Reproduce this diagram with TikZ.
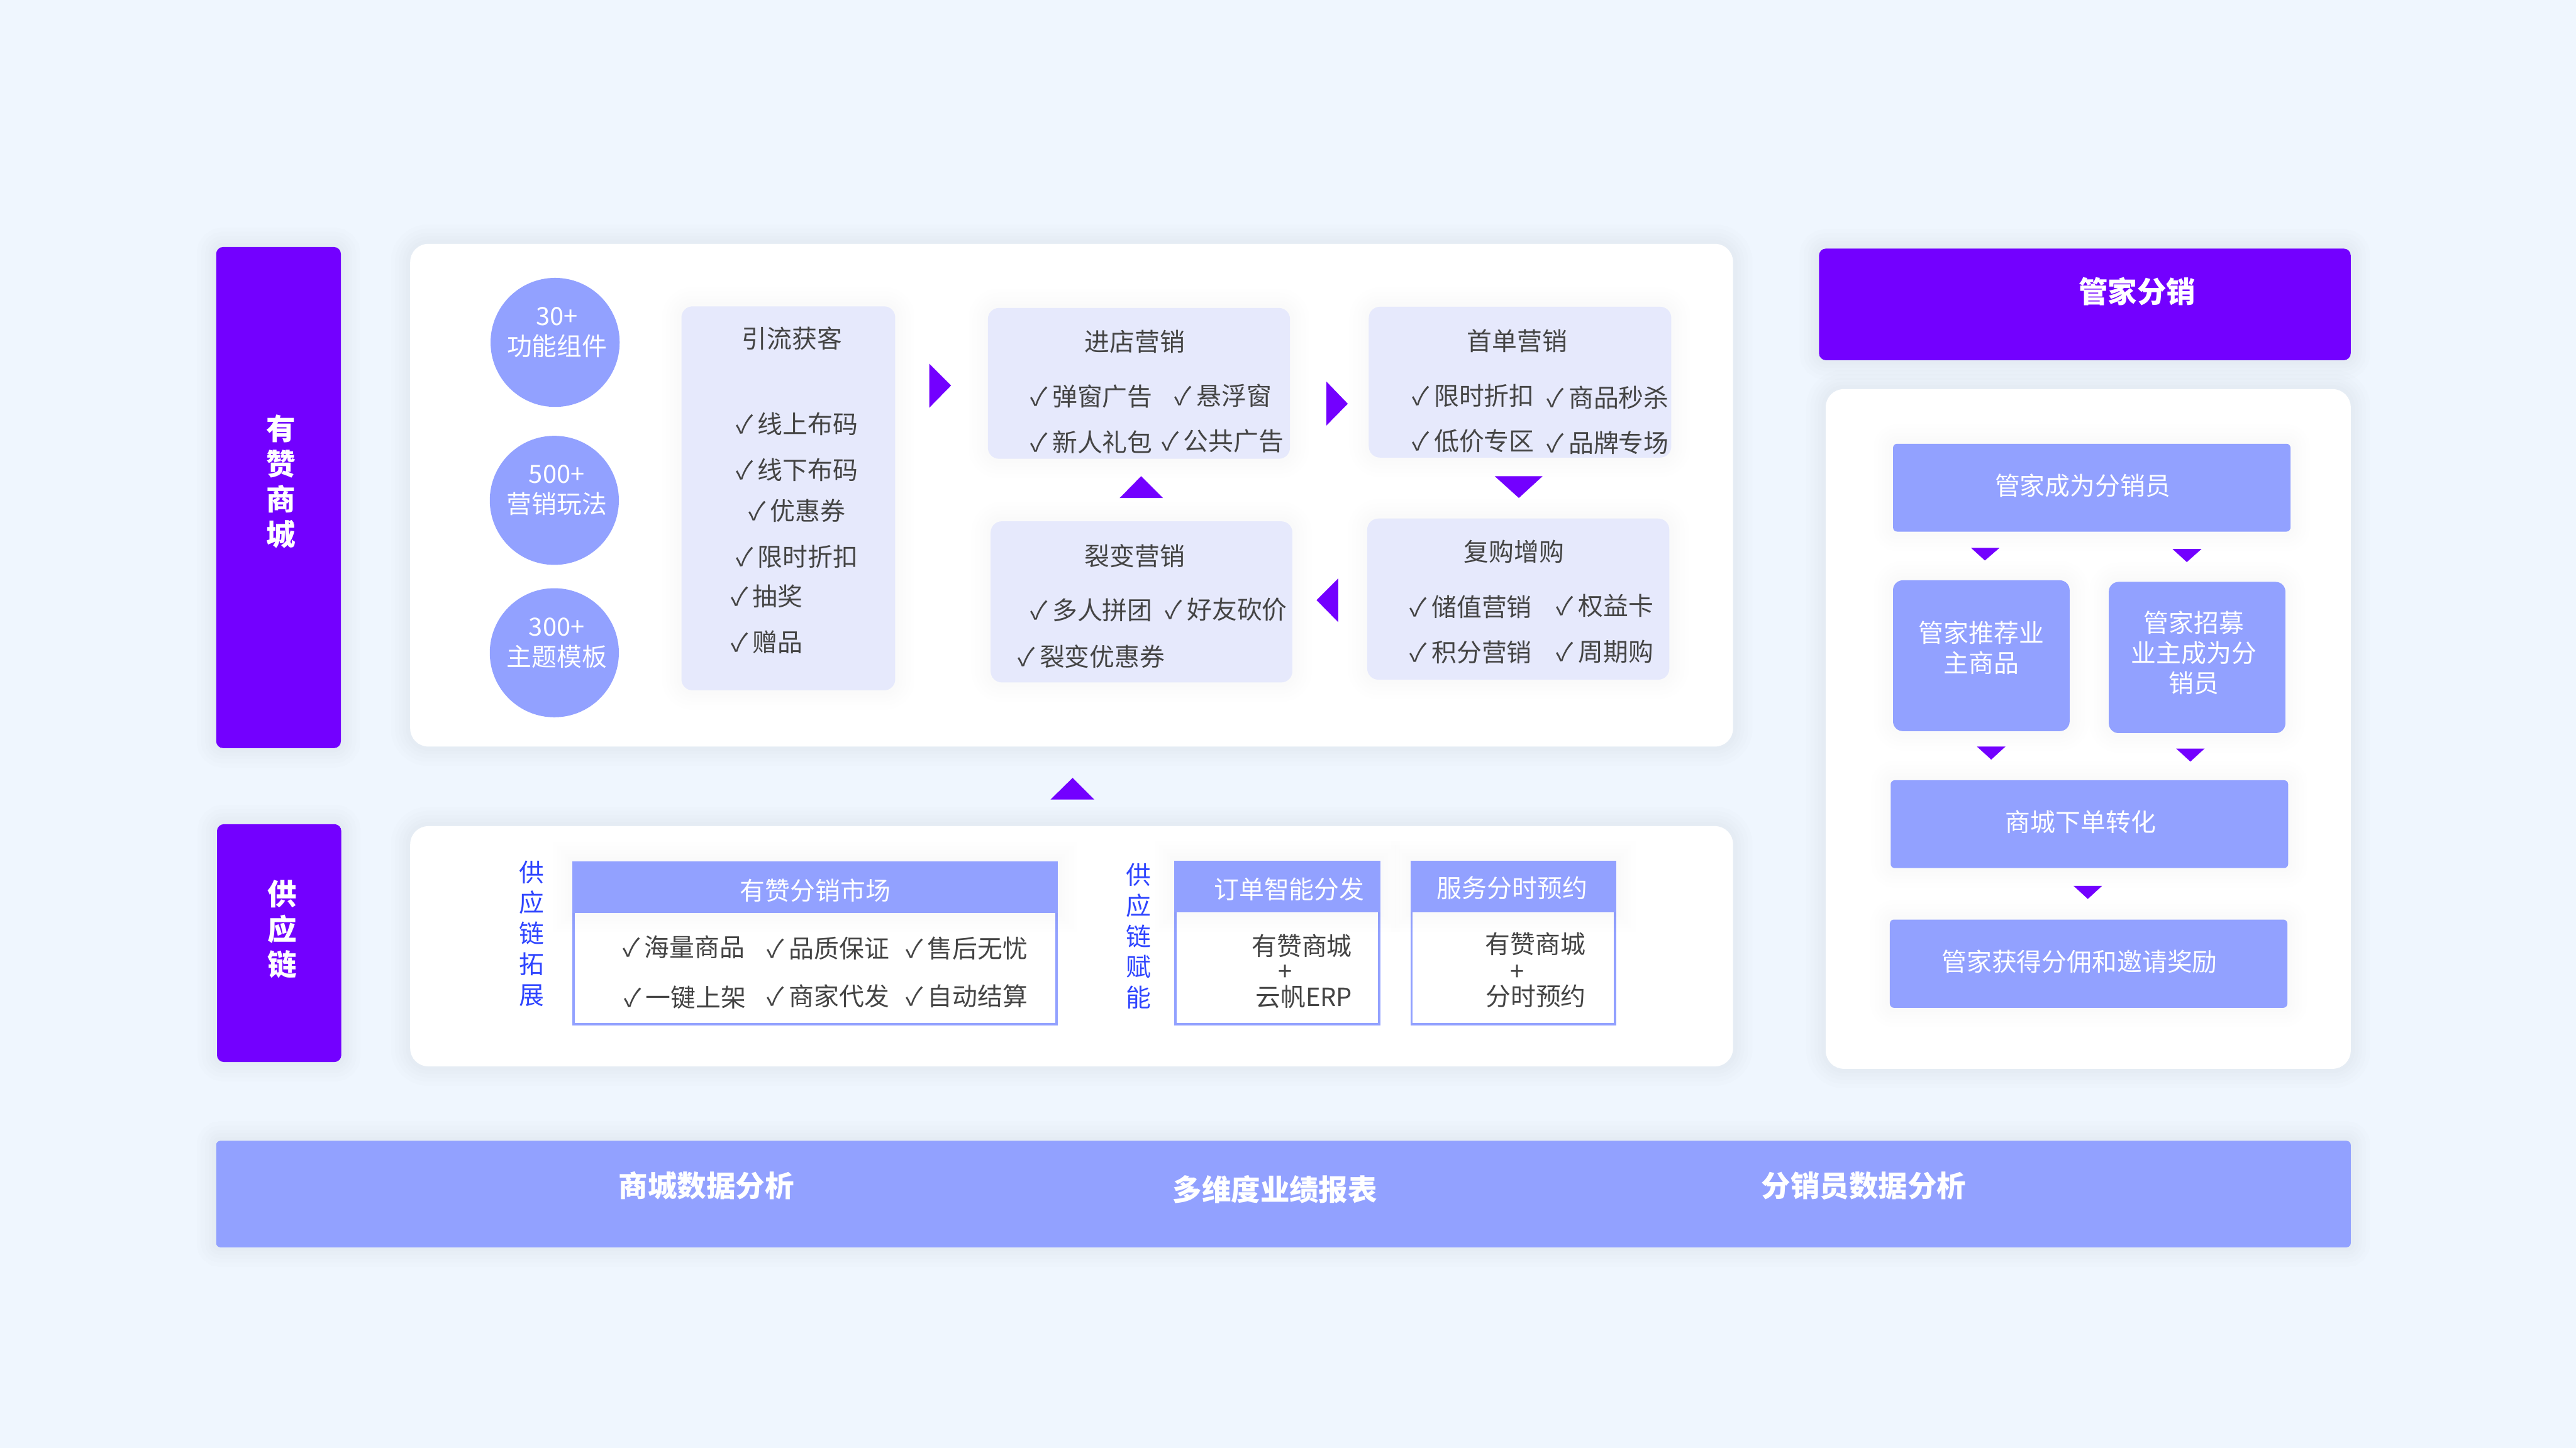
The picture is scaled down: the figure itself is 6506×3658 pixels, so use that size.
\documentclass[tikz,border=0pt]{standalone}
\usepackage{fontspec}
\setmainfont{Noto Sans CJK SC}
\usepackage{tikz}
\usetikzlibrary{calc}

\definecolor{bgcol}{HTML}{EFF6FE}
\definecolor{violet}{HTML}{7300FF}
\definecolor{barblue}{HTML}{92A1FF}
\definecolor{lightbox}{HTML}{E6E9FC}
\definecolor{inkcol}{HTML}{444444}
\definecolor{sidecol}{HTML}{2F45FF}

\newcommand\ck{\makebox[.55cm][l]{✓}}

\tikzset{
  boxsize/.style 2 args={minimum width=#1*.01cm, minimum height=#2*.01cm, inner sep=0, outer sep=0},
  softshadow/.style={
    preaction={draw=black, draw opacity=#1, line width=6pt},
    preaction={draw=black, draw opacity=#1, line width=11pt},
    preaction={draw=black, draw opacity=#1, line width=16pt},
    preaction={draw=black, draw opacity=#1, line width=22pt},
    preaction={draw=black, draw opacity=#1, line width=28pt}},
  panel/.style={fill=white, rounded corners=13pt, softshadow=.006},
  sidebar/.style={fill=violet, rounded corners=5pt, softshadow=.006},
  card/.style={fill=lightbox, rounded corners=8pt, softshadow=.003},
  stepbox/.style={fill=barblue, rounded corners=3pt, softshadow=.003},
  stepcard/.style={fill=barblue, rounded corners=7pt, softshadow=.003},
  tablebody/.style={fill=white, draw=barblue, line width=1.7pt},
  tablehead/.style={fill=barblue, softshadow=.002},
  pill/.style={circle, fill=barblue},
  txt/.style={inner sep=0, align=center, text=inkcol, font=\fontsize{18pt}{21.6pt}\selectfont},
  wtxt/.style={txt, text=white},
  btxt/.style={inner sep=0, align=center, text=white, font=\fontsize{21pt}{25.3pt}\selectfont\bfseries},
  sidetxt/.style={txt, text=sidecol, font=\fontsize{18pt}{22pt}\selectfont},
  chk/.style={txt, anchor=west},
  tri/.style={fill=violet}
}

\begin{document}
\begin{tikzpicture}[x=.01cm, y=-.01cm]
\useasboundingbox (0,0) rectangle (6506,3658);
\node[fill=bgcol, boxsize={6506}{3658}] (bg) at (3253,1829) {};

\node[sidebar, boxsize={315}{1266}] (barshop) at (703.5,1257) {};
\node[sidebar, boxsize={314}{601}] (barsupply) at (705,2382.5) {};
\node[btxt] (barshoptxt) at (710,1216) {有\\赞\\商\\城};
\node[btxt] (barsupplytxt) at (713,2347) {供\\应\\链};

\node[panel, boxsize={3341}{1270}] (panelshop) at (2706.5,1251) {};
\node[panel, boxsize={3341}{607}] (panelsupply) at (2706.5,2390.5) {};
\node[panel, boxsize={1326}{1717}] (paneldist) at (5274,1841.5) {};
\node[sidebar, boxsize={1343}{282}] (headdist) at (5265.5,769) {};
\node[btxt] (headdisttxt) at (5398,736) {管家分销};

\node[pill, boxsize={326}{326}] (pilla) at (1402,865) {};
\node[pill, boxsize={326}{326}] (pillb) at (1400,1264) {};
\node[pill, boxsize={326}{326}] (pillc) at (1400,1649) {};
\node[wtxt] (pilltxta) at (1407,840) {30+\\功能组件};
\node[wtxt] (pilltxtb) at (1406,1239) {500+\\营销玩法};
\node[wtxt] (pilltxtc) at (1406,1624) {300+\\主题模板};

\node[card, boxsize={540}{970}] (cardlead) at (1991,1259) {};
\node[card, boxsize={763}{381}] (cardstore) at (2876.5,968.5) {};
\node[card, boxsize={764}{381}] (cardfirst) at (3839,965.5) {};
\node[card, boxsize={762}{407}] (cardshare) at (2883,1520.5) {};
\node[card, boxsize={763}{407}] (cardrepeat) at (3834.5,1513.5) {};

\node[txt] (titlelead) at (2000,855) {引流获客};
\node[txt] (titlestore) at (2866,863) {进店营销};
\node[txt] (titlefirst) at (3832,861) {首单营销};
\node[txt] (titleshare) at (2866,1404) {裂变营销};
\node[txt] (titlerepeat) at (3824,1394) {复购增购};

\node[sidetxt] (sidea) at (1343,2358) {供\\应\\链\\拓\\展};
\node[sidetxt] (sideb) at (2875,2365) {供\\应\\链\\赋\\能};

\node[tablebody, boxsize={1221}{408}] (tablea) at (2058.5,2383) {};
\node[tablebody, boxsize={514}{410}] (tableb) at (3226,2382) {};
\node[tablebody, boxsize={514}{410}] (tablec) at (3822,2382) {};
\node[tablehead, boxsize={1227}{131}] (heada) at (2058.5,2241.5) {};
\node[tablehead, boxsize={520}{131}] (headb) at (3226,2239.5) {};
\node[tablehead, boxsize={520}{131}] (headc) at (3822,2239.5) {};
\node[wtxt] (headatxt) at (2059,2250) {有赞分销市场};
\node[wtxt] (headbtxt) at (3256,2247) {订单智能分发};
\node[wtxt] (headctxt) at (3819,2244) {服务分时预约};

\foreach \x/\y/\t [count=\i] in {
  1858/1071/线上布码, 1858/1187/线下布码, 1890/1291/优惠券, 1858/1407/限时折扣, 1845/1506/抽奖, 1845/1622/赠品,
  2602/1002/弹窗广告, 2966/1000/悬浮窗, 2602/1117/新人礼包, 2933/1114/公共广告,
  3566/1000/限时折扣, 3906/1004/商品秒杀, 3566/1114/低价专区, 3906/1119/品牌专场,
  2602/1542/多人拼团, 2942/1540/好友砍价, 2570/1658/裂变优惠券,
  3560/1533/储值营销, 3930/1530/权益卡, 3560/1648/积分营销, 3930/1647/周期购,
  1572/2393/海量商品, 1937/2396/品质保证, 2287/2396/售后无忧,
  1575/2520/一键上架, 1937/2517/商家代发, 2287/2517/自动结算}
  \node[chk] (item\i) at (\x,\y) {\ck\t};

\foreach \x/\y/\t [count=\i] in {3288/2389/有赞商城, 3246/2458/+, 3293/2519/云帆ERP, 3878/2385/有赞商城, 3832/2458/+, 3879/2517/分时预约}
  \node[txt] (cell\i) at (\x,\y) {\t};

\node[stepbox, boxsize={1004}{222}] (stepjoin) at (5283,1232) {};
\node[stepcard, boxsize={446}{381}] (steprec) at (5004,1656.5) {};
\node[stepcard, boxsize={446}{382}] (stepinv) at (5549,1661) {};
\node[stepbox, boxsize={1004}{222}] (steporder) at (5277,2082) {};
\node[stepbox, boxsize={1004}{223}] (stepgain) at (5275,2434.5) {};
\node[wtxt] (stepjointxt) at (5260,1226) {管家成为分销员};
\node[wtxt] (steprectxt) at (5004,1636) {管家推荐业\\主商品};
\node[wtxt] (stepinvtxt) at (5541,1649) {管家招募\\业主成为分\\销员};
\node[wtxt] (stepordertxt) at (5255,2077) {商城下单转化};
\node[wtxt] (stepgaintxt) at (5252,2429) {管家获得分佣和邀请奖励};

\node[stepbox, softshadow=.005, boxsize={5391}{269}] (barbottom) at (3241.5,3016.5) {};
\node[btxt] (datashop) at (1784,2996) {商城数据分析};
\node[btxt] (datareport) at (3220,3004) {多维度业绩报表};
\node[btxt] (datadist) at (4707,2996) {分销员数据分析};

\foreach \ax/\ay/\bx/\by/\cx/\cy in {
  2347/919/2402/974/2347/1030, 3350/964/3404/1020/3350/1075,
  3775/1203/3836/1258/3896/1203, 2828/1258/2882/1203/2937/1258,
  3380/1461/3325/1516/3380/1572, 2653/2020/2709/1965/2764/2020,
  4978/1384/5013/1416/5050/1384, 5487/1387/5523/1420/5560/1387,
  4993/1886/5029/1919/5065/1886, 5496/1891/5532/1924/5568/1891,
  5237/2238/5273/2271/5309/2238}
  \fill[tri] (\ax,\ay) -- (\bx,\by) -- (\cx,\cy) -- cycle;

\end{tikzpicture}
\end{document}
